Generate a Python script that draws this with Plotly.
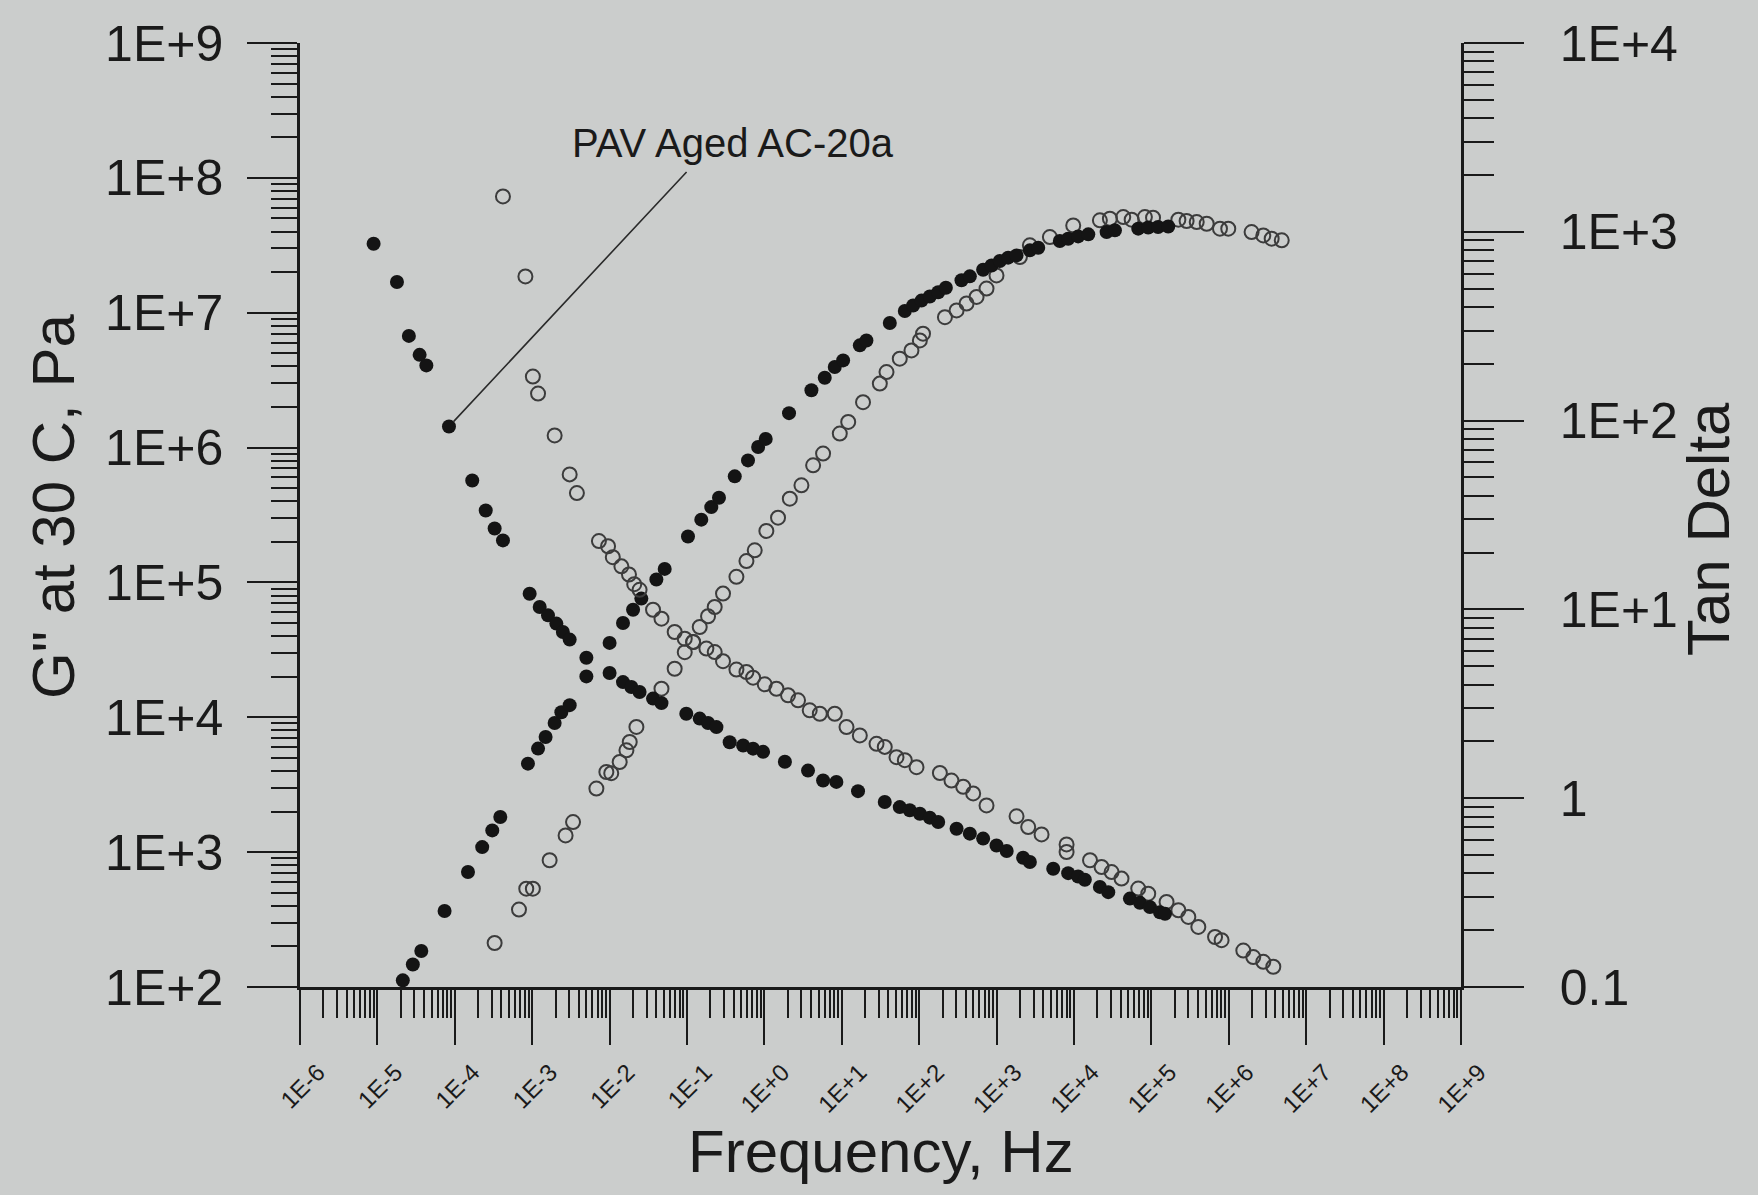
import math

import plotly.graph_objects as go

# PAV aged AC-20a (filled markers)
freq_pav_tan = [8.93e-6, 1.79e-5, 2.55e-5, 3.51e-5, 4.29e-5, 8.41e-5, 1.68e-4, 2.51e-4, 3.27e-4, 4.19e-4,
                9.27e-4, 1.25e-3, 1.60e-3, 2.05e-3, 2.49e-3, 3.05e-3, 5.01e-3, 1.00e-2, 1.49e-2, 1.91e-2,
                2.44e-2, 3.64e-2, 4.68e-2, 9.79e-2, 0.146, 0.187, 0.240, 0.356, 0.531, 0.714,
                0.962, 1.84, 3.66, 5.73, 8.51, 16.2, 35.9, 56.1, 75.5, 102,
                137, 176, 304, 451, 670, 997, 1350, 2200, 2690, 5390,
                8410, 11300, 13800, 21600, 27700, 52800, 71100, 95700, 129000, 150000]
tan_pav = [865, 542, 281, 223, 196, 93.1, 48.2, 33.4, 26.8, 23.2,
           12.1, 10.3, 9.30, 8.41, 7.59, 6.92, 5.55, 4.60, 4.12, 3.88,
           3.65, 3.37, 3.19, 2.80, 2.64, 2.50, 2.38, 1.98, 1.90, 1.83,
           1.76, 1.56, 1.40, 1.24, 1.22, 1.09, 0.955, 0.897, 0.863, 0.828,
           0.789, 0.748, 0.689, 0.649, 0.611, 0.562, 0.525, 0.484, 0.459, 0.423,
           0.401, 0.385, 0.370, 0.339, 0.318, 0.294, 0.279, 0.265, 0.249, 0.244]

freq_pav_g = [2.13e-5, 2.87e-5, 3.69e-5, 7.38e-5, 1.48e-4, 2.26e-4, 3.05e-4, 3.87e-4, 8.81e-4, 1.19e-3,
              1.49e-3, 1.95e-3, 2.38e-3, 3.05e-3, 5.01e-3, 1.00e-2, 1.49e-2, 2.01e-2, 2.57e-2, 4.02e-2,
              5.15e-2, 0.103, 0.153, 0.206, 0.259, 0.414, 0.614, 0.830, 1.04, 2.08,
              4.05, 6.02, 8.11, 10.4, 17.1, 20.8, 41.7, 65.2, 83.5, 107,
              137, 176, 221, 352, 451, 670, 861, 1100, 1410, 1810,
              2690, 3450, 6560, 8410, 11300, 15300, 26400, 33800, 67600, 91000,
              122000, 165000]
g_pav = [112, 147, 185, 366, 712, 1090, 1450, 1820, 4530, 5860,
         7150, 9060, 10900, 12300, 20100, 35600, 50000, 62800, 75900, 1.05e5,
         1.26e5, 2.19e5, 2.92e5, 3.62e5, 4.25e5, 6.12e5, 8.03e5, 1.01e6, 1.16e6, 1.80e6,
         2.66e6, 3.29e6, 3.96e6, 4.43e6, 5.73e6, 6.23e6, 8.38e6, 1.03e7, 1.13e7, 1.23e7,
         1.32e7, 1.42e7, 1.53e7, 1.74e7, 1.86e7, 2.08e7, 2.24e7, 2.42e7, 2.56e7, 2.66e7,
         2.90e7, 3.03e7, 3.40e7, 3.54e7, 3.68e7, 3.81e7, 3.96e7, 4.08e7, 4.20e7, 4.28e7,
         4.32e7, 4.36e7]

# second binder (open markers)
freq_open_tan = [4.19e-4, 8.17e-4, 1.02e-3, 1.19e-3, 1.95e-3, 3.05e-3, 3.78e-3, 7.28e-3, 9.55e-3, 1.10e-2,
                 1.42e-2, 1.78e-2, 2.08e-2, 2.44e-2, 3.64e-2, 4.68e-2, 6.93e-2, 9.35e-2, 0.120, 0.178,
                 0.228, 0.292, 0.435, 0.586, 0.714, 1.01, 1.43, 2.02, 2.72, 3.85,
                 5.20, 8.11, 11.5, 17.1, 28.1, 35.9, 50.9, 65.2, 92.3, 185,
                 261, 370, 498, 741, 1810, 2560, 3810, 8020, 8020, 16100,
                 22700, 30600, 41100, 67600, 91000, 157000, 223000, 300000, 404000, 664000,
                 807000, 1.54e6, 2.07e6, 2.79e6, 3.76e6]
tan_open = [1540, 580, 171, 139, 83.5, 51.9, 41.3, 23.0, 21.6, 18.9,
            16.9, 15.3, 13.6, 12.7, 9.96, 8.93, 7.59, 7.00, 6.72, 6.20,
            5.94, 5.32, 4.80, 4.66, 4.35, 4.01, 3.80, 3.51, 3.30, 2.92,
            2.80, 2.80, 2.38, 2.15, 1.94, 1.87, 1.65, 1.59, 1.46, 1.36,
            1.24, 1.15, 1.06, 0.916, 0.802, 0.703, 0.643, 0.569, 0.519, 0.469,
            0.432, 0.406, 0.375, 0.332, 0.312, 0.282, 0.255, 0.235, 0.208, 0.184,
            0.177, 0.156, 0.144, 0.136, 0.128]

freq_open_g = [3.27e-4, 6.75e-4, 8.38e-4, 1.02e-3, 1.68e-3, 2.70e-3, 3.37e-3, 6.75e-3, 9.08e-3, 1.05e-2,
               1.35e-2, 1.65e-2, 1.82e-2, 2.22e-2, 4.68e-2, 6.93e-2, 9.35e-2, 0.120, 0.146, 0.187,
               0.228, 0.292, 0.435, 0.586, 0.750, 1.06, 1.50, 2.13, 3.01, 4.26,
               5.73, 9.42, 12.1, 18.8, 31.0, 37.8, 56.1, 79.4, 102, 112,
               215, 304, 409, 551, 741, 997, 2000, 2690, 4880, 9770,
               21600, 29100, 43300, 55600, 82400, 105000, 223000, 285000, 385000, 518000,
               769000, 984000, 1.97e6, 2.79e6, 3.58e6, 4.83e6]
g_open = [212, 375, 536, 536, 871, 1330, 1670, 2960, 3930, 3850,
          4660, 5690, 6560, 8480, 16300, 22900, 30400, 36100, 46700, 56100,
          65700, 82600, 1.10e5, 1.44e5, 1.73e5, 2.41e5, 3.02e5, 4.18e5, 5.25e5, 7.38e5,
          9.02e5, 1.27e6, 1.55e6, 2.17e6, 2.98e6, 3.63e6, 4.56e6, 5.25e6, 6.23e6, 6.99e6,
          9.27e6, 1.04e7, 1.17e7, 1.31e7, 1.51e7, 1.89e7, 2.59e7, 3.16e7, 3.64e7, 4.44e7,
          4.84e7, 4.98e7, 5.12e7, 4.90e7, 5.12e7, 5.07e7, 4.90e7, 4.79e7, 4.70e7, 4.57e7,
          4.20e7, 4.20e7, 3.96e7, 3.74e7, 3.54e7, 3.44e7]

x_tick_vals = [1e-6, 1e-5, 1e-4, 1e-3, 1e-2, 1e-1, 1e0, 1e1, 1e2, 1e3, 1e4, 1e5, 1e6, 1e7, 1e8, 1e9]
x_tick_text = ["1E-6", "1E-5", "1E-4", "1E-3", "1E-2", "1E-1", "1E+0", "1E+1",
               "1E+2", "1E+3", "1E+4", "1E+5", "1E+6", "1E+7", "1E+8", "1E+9"]
y_tick_vals = [1e2, 1e3, 1e4, 1e5, 1e6, 1e7, 1e8, 1e9]
y_tick_text = ["1E+2", "1E+3", "1E+4", "1E+5", "1E+6", "1E+7", "1E+8", "1E+9"]
y2_tick_vals = [0.1, 1, 10, 100, 1000, 10000]
y2_tick_text = ["0.1", "1", "1E+1", "1E+2", "1E+3", "1E+4"]

INK = "#1a1a1a"
BG = "#cbcdcc"
FONT = "Liberation Sans, Arial, sans-serif"

open_marker = dict(symbol="circle-open", size=14, color="#3c3c3c", line=dict(width=2))
dot_marker = dict(symbol="circle", size=14, color="#141414")

fig = go.Figure()
fig.add_trace(go.Scatter(x=freq_open_g, y=g_open, mode="markers", marker=open_marker, yaxis="y"))
fig.add_trace(go.Scatter(x=freq_open_tan, y=tan_open, mode="markers", marker=open_marker, yaxis="y2"))
fig.add_trace(go.Scatter(x=freq_pav_g, y=g_pav, mode="markers", marker=dot_marker, yaxis="y"))
fig.add_trace(go.Scatter(x=freq_pav_tan, y=tan_pav, mode="markers", marker=dot_marker, yaxis="y2"))

axis_common = dict(
    type="log",
    showgrid=False,
    zeroline=False,
    showline=True,
    linecolor=INK,
    linewidth=2.5,
    ticks="outside",
    tickcolor=INK,
    tickwidth=2,
    tickmode="array",
    automargin=False,
)

fig.update_layout(
    width=1758,
    height=1195,
    margin=dict(l=300, r=297, t=43, b=208),
    paper_bgcolor=BG,
    plot_bgcolor=BG,
    showlegend=False,
    font=dict(family=FONT, color=INK),
    xaxis=dict(
        **axis_common,
        range=[-6, 9],
        tickvals=x_tick_vals,
        ticktext=x_tick_text,
        ticklen=55,
        tickangle=-45,
        tickfont=dict(size=24),
        ticklabelstandoff=4,
        ticklabelshift=18,
        minor=dict(ticks="outside", ticklen=28, tickwidth=1.5, tickcolor=INK, dtick="D1"),
    ),
    yaxis=dict(
        **axis_common,
        range=[2, 9],
        tickvals=y_tick_vals,
        ticktext=y_tick_text,
        ticklen=50,
        tickfont=dict(size=50),
        ticklabelstandoff=14,
        minor=dict(ticks="outside", ticklen=26, tickwidth=1.5, tickcolor=INK, dtick="D1"),
    ),
    yaxis2=dict(
        **axis_common,
        range=[-1, 4],
        overlaying="y",
        side="right",
        tickvals=y2_tick_vals,
        ticktext=y2_tick_text,
        ticklen=60,
        tickfont=dict(size=50),
        ticklabelstandoff=26,
        minor=dict(ticks="outside", ticklen=30, tickwidth=1.5, tickcolor=INK, dtick="D1"),
    ),
)

# axis titles
fig.add_annotation(text='G" at 30 C, Pa', textangle=-90, xref="paper", yref="paper",
                   x=0, y=0.5, xanchor="center", yanchor="middle", xshift=-247, yshift=8,
                   showarrow=False, font=dict(size=60))
fig.add_annotation(text="Tan Delta", textangle=-90, xref="paper", yref="paper",
                   x=1, y=0.5, xanchor="center", yanchor="middle", xshift=247, yshift=-14,
                   showarrow=False, font=dict(size=60))
fig.add_annotation(text="Frequency, Hz", xref="paper", yref="paper",
                   x=0.5, y=0, xanchor="center", yanchor="middle", yshift=-164,
                   showarrow=False, font=dict(size=60))

# sample label with leader line to one PAV point
fig.add_annotation(text="PAV Aged AC-20a", xref="paper", yref="paper", x=0, y=1,
                   xanchor="left", yanchor="middle", xshift=270, yshift=-100,
                   showarrow=False, font=dict(size=40))
fig.add_annotation(text="", xref="x", yref="y2",
                   x=math.log10(freq_pav_tan[5]), y=math.log10(tan_pav[5]),
                   showarrow=True, arrowhead=0, arrowwidth=1.6, arrowcolor="#2a2a2a",
                   ax=239, ay=-256, standoff=7, font=dict(size=1))

fig.write_html("out.html", config={"displayModeBar": False},
               post_script="document.body.style.margin='0';")
